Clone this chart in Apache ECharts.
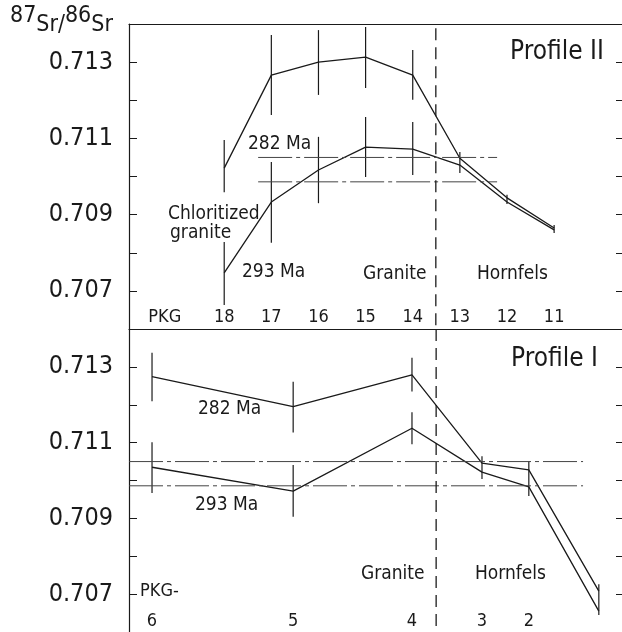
<!DOCTYPE html>
<html>
<head>
<meta charset="utf-8">
<script src="https://cdn.jsdelivr.net/npm/echarts@6/dist/echarts.min.js"></script>
<style>
  html, body { margin: 0; background: #fff; }
  #chart { width: 622px; height: 632px; }
</style>
</head>
<body>
<div id="chart"></div>
<script>
// Profile II (top panel), samples evenly spaced
const samplesII = [18, 17, 16, 15, 14, 13, 12, 11]
const upperII = [0.71022, 0.71266, 0.713, 0.71313, 0.71266, 0.71048, 0.70944, 0.70865]
const lowerII = [0.70747, 0.70933, 0.71017, 0.71077, 0.71072, 0.7103, 0.70933, 0.7086]
const upperErrII = [[0.70959, 0.71096], [0.71161, 0.71371], [0.71214, 0.71384], [0.71232, 0.71392], [0.71201, 0.71332], [0.71009, 0.71064], [0.70928, 0.70952], [0.70852, 0.70873]]
const lowerErrII = [[0.70663, 0.70828], [0.70826, 0.71038], [0.7093, 0.71104], [0.70999, 0.71156], [0.71004, 0.71143]]

// Profile I (bottom panel), distance along profile (0-100)
const samplesI = [6, 5, 4, 3, 2, 1]
const distI = [4.67, 33.3, 57.4, 71.6, 81.1, 95.3]
const upperI = [0.71274, 0.71195, 0.71279, 0.71046, 0.71028, 0.70708]
const lowerI = [0.71035, 0.70972, 0.71138, 0.71022, 0.70983, 0.70655]
const upperErrI = [[0.71209, 0.71337], [0.71127, 0.71261], [0.71235, 0.71324], [0.71004, 0.71064], [0.70959, 0.71051], [0.70645, 0.70726]]
const lowerErrI = [[0.70967, 0.71101], [0.70904, 0.71041], [0.71096, 0.7118]]

// initial ratios for 282 Ma and 293 Ma
const ratio282 = 0.7105
const ratio293 = 0.70986
const isoSpanII = [17.28, 12.21]
const isoSpanI = [0, 92.1]
const contactII = 13.51
const contactI = 62.3

const font = '"Liberation Sans Narrow", "DejaVu Sans Condensed", "Roboto Condensed", "Liberation Sans", sans-serif'
const ink = '#1a1a1a'

const chart = echarts.init(document.getElementById('chart'))

const lineSeries = (xi, xs, ys) => ({
  type: 'line',
  xAxisIndex: xi,
  yAxisIndex: xi === 0 ? 0 : 2,
  data: xs.map((x, i) => [x, ys[i]]),
  symbol: 'none',
  silent: true,
  lineStyle: { color: ink, width: 1.3 }
})

const errSeries = (xi, xs, errs) => ({
  type: 'custom',
  xAxisIndex: xi,
  yAxisIndex: xi === 0 ? 0 : 2,
  data: errs.map((e, i) => [xs[i], e[0], e[1]]),
  encode: { x: 0, y: [1, 2] },
  silent: true,
  renderItem: (params, api) => {
    const a = api.coord([api.value(0), api.value(1)])
    const b = api.coord([api.value(0), api.value(2)])
    return {
      type: 'line',
      shape: { x1: a[0], y1: a[1], x2: b[0], y2: b[1] },
      style: { stroke: ink, lineWidth: 1.2 }
    }
  }
})

const isoSeries = (xi, span, v) => ({
  type: 'line',
  xAxisIndex: xi,
  yAxisIndex: xi === 0 ? 0 : 2,
  data: [[span[0], v], [span[1], v]],
  symbol: 'none',
  silent: true,
  lineStyle: { color: '#444', width: 1, type: [34, 4, 4, 4] }
})

const contactSeries = (xi, x) => ({
  type: 'line',
  xAxisIndex: xi,
  yAxisIndex: xi === 0 ? 0 : 2,
  data: [[x, xi === 0 ? 0.71389 : 0.714], [x, 0.706]],
  symbol: 'none',
  silent: true,
  lineStyle: { color: ink, width: 1.3, type: [12, 7] }
})

const leftY = (gi) => ({
  gridIndex: gi,
  type: 'value',
  min: 0.706,
  max: 0.714,
  interval: 0.001,
  position: 'left',
  axisLine: { show: true, lineStyle: { color: ink, width: 1.2 } },
  axisTick: { show: true, inside: true, length: 8, lineStyle: { color: ink } },
  splitLine: { show: false },
  axisLabel: {
    margin: 16,
    fontFamily: font,
    fontSize: 25,
    color: ink,
    formatter: (v) => {
      const k = Math.round(v * 1000)
      return k % 2 === 1 && k < 714 ? (k / 1000).toFixed(3) : ''
    }
  }
})

const rightY = (gi) => ({
  gridIndex: gi,
  type: 'value',
  min: 0.706,
  max: 0.714,
  interval: 0.001,
  position: 'right',
  axisLine: { show: false },
  axisTick: { show: true, inside: true, length: 6, lineStyle: { color: ink } },
  splitLine: { show: false },
  axisLabel: { show: false }
})

const txt = (x, y, s, size) => ({
  type: 'text',
  x, y,
  silent: true,
  style: { text: s, fill: ink, font: `${size || 19}px ${font}`, textVerticalAlign: 'middle' }
})

chart.setOption({
  animation: false,
  grid: [
    { left: 129, top: 24, width: 493, height: 305 },
    { left: 129, top: 329, width: 493, height: 305 }
  ],
  xAxis: [
    {
      gridIndex: 0,
      type: 'value',
      inverse: true,
      min: 9.56,
      max: 20.02,
      position: 'bottom',
      axisLine: { show: true, lineStyle: { color: ink, width: 1.2 } },
      axisTick: { show: false },
      splitLine: { show: false },
      axisLabel: {
        inside: true,
        margin: 3,
        fontFamily: font,
        fontSize: 18,
        color: ink,
        customValues: [19.26].concat(samplesII),
        formatter: (v) => (v > 19 ? 'PKG' : String(Math.round(v)))
      }
    },
    {
      gridIndex: 0,
      type: 'value',
      inverse: true,
      min: 9.56,
      max: 20.02,
      position: 'top',
      axisLine: { show: true, lineStyle: { color: ink, width: 1.2 } },
      axisTick: { show: false },
      splitLine: { show: false },
      axisLabel: { show: false }
    },
    {
      gridIndex: 1,
      type: 'value',
      min: 0,
      max: 100,
      position: 'bottom',
      axisLine: { show: false },
      axisTick: { show: false },
      splitLine: { show: false },
      axisLabel: {
        inside: true,
        margin: 2,
        fontFamily: font,
        fontSize: 18,
        color: ink,
        customValues: distI.slice(0, 5),
        formatter: (v) => {
          const i = distI.findIndex((d) => Math.abs(d - v) < 0.5)
          return i < 0 ? '' : String(samplesI[i])
        }
      }
    }
  ],
  yAxis: [leftY(0), rightY(0), leftY(1), rightY(1)],
  series: [
    lineSeries(0, samplesII, upperII),
    lineSeries(0, samplesII, lowerII),
    errSeries(0, samplesII, upperErrII),
    errSeries(0, samplesII, lowerErrII),
    isoSeries(0, isoSpanII, ratio282),
    isoSeries(0, isoSpanII, ratio293),
    contactSeries(0, contactII),
    lineSeries(2, distI, upperI),
    lineSeries(2, distI, lowerI),
    errSeries(2, distI, upperErrI),
    errSeries(2, distI, lowerErrI),
    isoSeries(2, isoSpanI, ratio282),
    isoSeries(2, isoSpanI, ratio293),
    contactSeries(2, contactI)
  ],
  graphic: [
    {
      type: 'text',
      x: 10,
      y: 37,
      silent: true,
      style: {
        text: '{sup|87}{b|Sr/}{sup|86}{b|Sr}',
        fill: ink,
        textVerticalAlign: 'bottom',
        rich: {
          sup: { fontFamily: font, fontSize: 23, color: ink, verticalAlign: 'top', padding: [0, 0, 9, 0] },
          b: { fontFamily: font, fontSize: 23, color: ink, verticalAlign: 'bottom' }
        }
      }
    },
    txt(510, 52, 'Profile II', 26),
    txt(511, 359, 'Profile I', 26),
    txt(248, 144, '282 Ma'),
    txt(242, 272, '293 Ma'),
    txt(168, 214, 'Chloritized'),
    txt(170, 233, 'granite'),
    txt(363, 274, 'Granite'),
    txt(477, 274, 'Hornfels'),
    txt(198, 409, '282 Ma'),
    txt(195, 505, '293 Ma'),
    txt(361, 574, 'Granite'),
    txt(475, 574, 'Hornfels'),
    txt(140, 591, 'PKG-', 18)
  ]
})
</script>
</body>
</html>
